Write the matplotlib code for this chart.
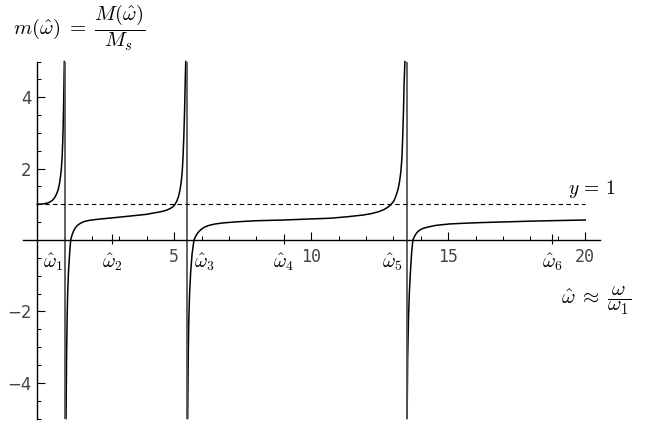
import matplotlib
matplotlib.use("Agg")
import matplotlib.pyplot as plt
from matplotlib.ticker import MultipleLocator

plt.rcParams['mathtext.fontset'] = 'cm'

# curve, one list pair per branch
b1_x = [0, 0.2, 0.35, 0.45, 0.55, 0.63, 0.7, 0.76, 0.81, 0.85, 0.88, 0.91, 0.93, 0.95,
        0.965, 0.98, 0.988]
b1_y = [1.0, 1.01, 1.03, 1.06, 1.11, 1.18, 1.28, 1.4, 1.57, 1.78, 2.0, 2.35, 2.75, 3.3,
        3.9, 4.6, 5.0]

b2_x = [1.05, 1.07, 1.09, 1.11, 1.14, 1.18, 1.22, 1.27, 1.33, 1.4, 1.48, 1.58, 1.72, 1.9,
        2.2, 2.6, 3.0, 3.5, 4.0, 4.2, 4.5, 4.7, 4.85, 4.95, 5.03, 5.1, 5.16, 5.21, 5.25,
        5.29, 5.32, 5.35, 5.38, 5.4, 5.42]
b2_y = [-5, -3.3, -2.2, -1.5, -0.9, -0.4, 0, 0.14, 0.26, 0.35, 0.42, 0.47, 0.52, 0.55,
        0.58, 0.61, 0.64, 0.68, 0.72, 0.75, 0.79, 0.83, 0.88, 0.93, 1.0, 1.1, 1.23, 1.4, 1.6,
        1.9, 2.3, 2.9, 3.7, 4.4, 5.0]

b3_x = [5.49, 5.51, 5.53, 5.56, 5.6, 5.65, 5.72, 5.79, 5.87, 5.97, 6.1, 6.27, 6.5, 6.8,
        7.3, 8.0, 9.0, 10.0, 10.7, 11.3, 11.9, 12.2, 12.45, 12.65, 12.8, 12.92, 13.02, 13.1,
        13.17, 13.22, 13.27, 13.31, 13.34, 13.37, 13.39, 13.42]
b3_y = [-5, -3.3, -2.3, -1.5, -0.9, -0.4, 0, 0.12, 0.21, 0.29, 0.36, 0.41, 0.45, 0.48,
        0.51, 0.54, 0.56, 0.59, 0.61, 0.65, 0.70, 0.74, 0.79, 0.85, 0.92, 1.0, 1.1, 1.25,
        1.42, 1.62, 1.9, 2.3, 2.9, 3.7, 4.4, 5.0]

b4_x = [13.5, 13.52, 13.55, 13.58, 13.62, 13.66, 13.71, 13.78, 13.86, 13.96, 14.1, 14.3,
        14.55, 15.06, 15.6, 16.28, 17.2, 18.1, 19.0, 20.0]
b4_y = [-5, -3.3, -2.2, -1.5, -0.9, -0.4, 0, 0.12, 0.21, 0.28, 0.33, 0.37, 0.41, 0.45,
        0.47, 0.49, 0.51, 0.53, 0.545, 0.56]

asymptotes = [1.01, 5.45, 13.48]

# omega-hat labels and where they sit on the axis
w_labels = [r'$\hat{\omega}_1$', r'$\hat{\omega}_2$', r'$\hat{\omega}_3$',
            r'$\hat{\omega}_4$', r'$\hat{\omega}_5$', r'$\hat{\omega}_6$']
w_pos = [0.58, 2.74, 6.12, 9.0, 12.96, 18.8]
w_ticks = [2.74, 9.0, 18.77]

fig = plt.figure(figsize=(6.46, 4.25), dpi=100)
ax = fig.add_axes([23 / 646, 1 - 418.5 / 425, 577 / 646, 357 / 425])
ax.set_xlim(-0.52, 20.54)
ax.set_ylim(-5, 5)

# axes through the origin
for s in ['top', 'right']:
    ax.spines[s].set_visible(False)
ax.spines['left'].set_position(('data', 0))
ax.spines['bottom'].set_position(('data', 0))
for s in ['left', 'bottom']:
    ax.spines[s].set_linewidth(1.0)

ax.xaxis.set_major_locator(MultipleLocator(5))
ax.xaxis.set_minor_locator(MultipleLocator(1))
ax.yaxis.set_major_locator(MultipleLocator(2))
ax.yaxis.set_minor_locator(MultipleLocator(0.5))
ax.tick_params(which='major', direction='in', length=6, width=0.8,
               labelsize=12, labelcolor='#444444')
ax.tick_params(which='minor', direction='in', length=3, width=0.7)
ax.tick_params(axis='x', pad=6)
ax.tick_params(axis='y', pad=4)
ax.set_xticks([5, 10, 15, 20])
ax.set_xticklabels(['5', '10', '15', '20'], family='DejaVu Sans Mono')
ax.set_yticks([-4, -2, 2, 4])
ax.set_yticklabels(['\u22124', '\u22122', '2', '4'])

# the curve
for bx, by in [(b1_x, b1_y), (b2_x, b2_y), (b3_x, b3_y), (b4_x, b4_y)]:
    ax.plot(bx, by, color='black', lw=1.1, clip_on=False)
for a in asymptotes:
    ax.plot([a, a], [-5, 5], color='#555555', lw=1.3)

ax.plot([0, 20], [1, 1], color='black', lw=0.8, ls=(0, (4, 3)))
ax.vlines(w_ticks, -0.12, 0.18, color='black', lw=0.8)

for lab, p in zip(w_labels, w_pos):
    ax.text(p, -0.62, lab, ha='center', va='center', fontsize=14)

ax.text(20.25, 1.42, r'$y\,=\,1$', ha='center', va='center', fontsize=14)
ax.text(20.4, -1.7, r'$\hat{\omega}\;\approx\;\dfrac{\omega}{\omega_1}$',
        ha='center', va='center', fontsize=15, clip_on=False)
fig.text(13 / 646, 1 - 28 / 425,
         r'$m(\hat{\omega})\;=\;\dfrac{M(\hat{\omega})}{M_s}$',
         ha='left', va='center', fontsize=15)

fig.savefig('out.png', dpi=100)
